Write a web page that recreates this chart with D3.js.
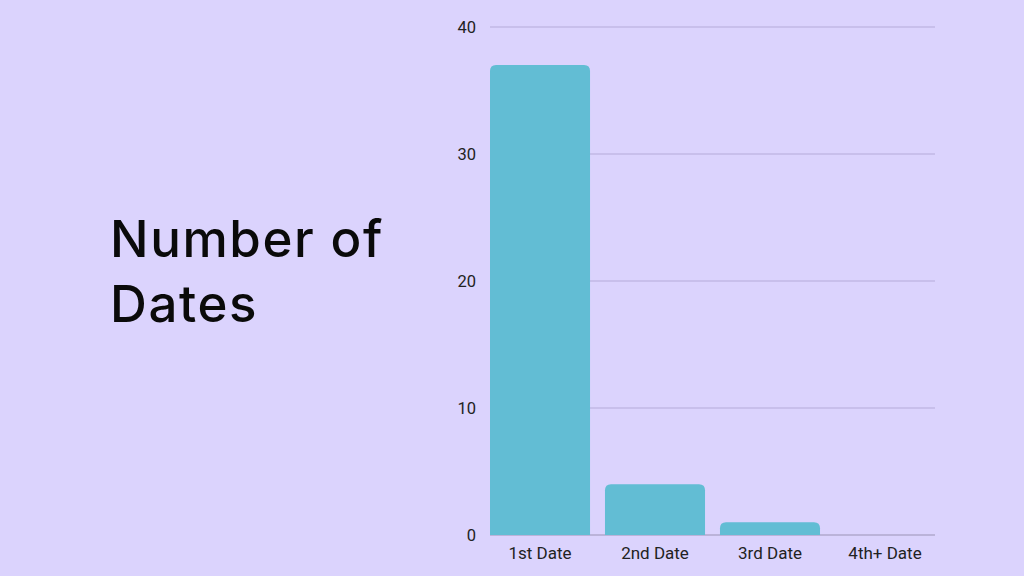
<!DOCTYPE html>
<html>
<head>
<meta charset="utf-8">
<script src="https://cdn.jsdelivr.net/npm/d3@7"></script>
<style>
  html, body { margin: 0; padding: 0; background: #dbd3fd; }
  svg { display: block; }
</style>
</head>
<body>
<svg id="chart" width="1024" height="576"></svg>
<script>
// chart data
const categories = ["1st Date", "2nd Date", "3rd Date", "4th+ Date"];
const counts = [37, 4, 1, 0];
const yTicks = [0, 10, 20, 30, 40];
const titleLines = ["Number of", "Dates"];

const width = 1024, height = 576;
const margin = {top: 27, right: 89, bottom: 41, left: 490};

const svg = d3.select('#chart');

svg.append('rect')
    .attr('width', width)
    .attr('height', height)
    .attr('fill', '#dbd3fd');

// big title on the left
const title = svg.append('text')
    .attr('x', 110)
    .attr('y', 257)
    .attr('font-family', 'Inter, sans-serif')
    .attr('font-weight', 500)
    .attr('font-size', 51)
    .attr('letter-spacing', 1.6)
    .attr('fill', '#0a0a0a');
title.selectAll('tspan')
    .data(titleLines)
    .enter()
    .append('tspan')
    .attr('x', 110)
    .attr('dy', (d, i) => i === 0 ? 0 : 65)
    .text(d => d);

const x = d3.scaleBand()
    .domain(categories)
    .range([margin.left, width - margin.right])
    .paddingInner(0.13)
    .paddingOuter(0);

const y = d3.scaleLinear()
    .domain([0, 40])
    .range([height - margin.bottom, margin.top]);

// gridlines
svg.append('g')
    .selectAll('line')
    .data(yTicks)
    .enter()
    .append('line')
    .attr('x1', margin.left)
    .attr('x2', width - margin.right)
    .attr('y1', d => y(d))
    .attr('y2', d => y(d))
    .attr('stroke', d => d === 0 ? '#b0a8cc' : '#b5abd9')
    .attr('stroke-width', d => d === 0 ? 1.5 : 1);

// y axis labels
const yAxis = d3.axisLeft(y)
    .tickValues(yTicks)
    .tickSize(0)
    .tickPadding(14);
const yg = svg.append('g')
    .attr('transform', `translate(${margin.left},0)`)
    .call(yAxis);
yg.select('.domain').remove();
yg.selectAll('text')
    .attr('font-family', 'Roboto, sans-serif')
    .attr('font-size', 16.5)
    .attr('fill', '#222');

// rounded-top bars
const r = 6;
function barPath(d, i) {
    const x0 = x(categories[i]), w = x.bandwidth();
    const y0 = y(0), y1 = y(d);
    const h = y0 - y1;
    if (h <= 0) return '';
    const rr = Math.min(r, h, w / 2);
    return `M${x0},${y0}V${y1 + rr}Q${x0},${y1} ${x0 + rr},${y1}` +
        `H${x0 + w - rr}Q${x0 + w},${y1} ${x0 + w},${y1 + rr}V${y0}Z`;
}
svg.append('g')
    .selectAll('path')
    .data(counts)
    .enter()
    .append('path')
    .attr('d', barPath)
    .attr('fill', '#62bdd4');

// x axis labels
const xAxis = d3.axisBottom(x)
    .tickSize(0)
    .tickPadding(12);
const xg = svg.append('g')
    .attr('transform', `translate(0,${y(0)})`)
    .call(xAxis);
xg.select('.domain').remove();
xg.selectAll('text')
    .attr('font-family', 'Roboto, sans-serif')
    .attr('font-size', 17)
    .attr('fill', '#222');
</script>
</body>
</html>
